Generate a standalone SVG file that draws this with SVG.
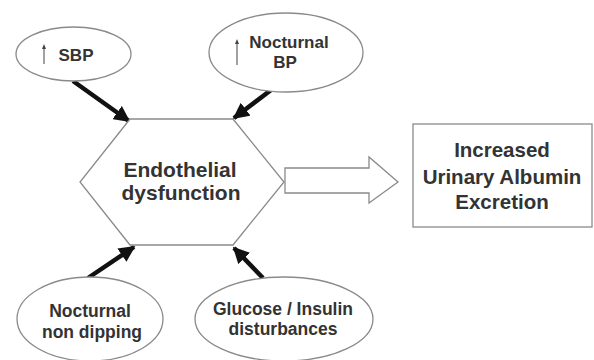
<svg xmlns="http://www.w3.org/2000/svg" width="594" height="360" viewBox="0 0 594 360">
<defs>
<style>
.sh{fill:#fff;stroke:#8a8a8a;stroke-width:1.3}
.t{font-family:"Liberation Sans",Arial,sans-serif;font-weight:bold;fill:#333;text-anchor:middle}
.c{stroke:#111;stroke-width:4.5;fill:none}
.up{stroke:#444;stroke-width:1;fill:none}
</style>
<marker id="ah" viewBox="0 0 10 10" refX="9" refY="5" markerWidth="3.6" markerHeight="3.6" orient="auto" markerUnits="strokeWidth">
<path d="M0,0 L10,5 L0,10 z" fill="#111"/>
</marker>
<marker id="sh" viewBox="0 0 10 10" refX="5" refY="10" markerWidth="5" markerHeight="5" orient="auto-start-reverse" markerUnits="userSpaceOnUse">
<path d="M5,0 L9,10 L1,10 z" fill="#444"/>
</marker>
</defs>
<rect width="594" height="360" fill="#fff"/>
<g id="connectors">
<line class="c" x1="73" y1="81" x2="129" y2="121" marker-end="url(#ah)"/>
<line class="c" x1="275" y1="87" x2="234" y2="118" marker-end="url(#ah)"/>
<line class="c" x1="88" y1="278" x2="134" y2="247" marker-end="url(#ah)"/>
<line class="c" x1="263" y1="278" x2="234" y2="248" marker-end="url(#ah)"/>
<path id="block-arrow" class="sh" d="M285,168 L369,168 L369,157 L398,182 L369,203 L369,193 L285,193 Z"/>
</g>
<g id="sbp">
<ellipse class="sh" cx="73.5" cy="54" rx="57.5" ry="27"/>
<line class="up" x1="44" y1="64" x2="44" y2="46"/>
<path d="M44,44 L46,49 L42,49 z" fill="#444"/>
<text class="t" x="76" y="61" font-size="17">SBP</text>
</g>
<g id="nocturnal-bp">
<ellipse class="sh" cx="286" cy="52.5" rx="77" ry="39.5"/>
<line class="up" x1="237" y1="65" x2="237" y2="42"/>
<path d="M237,39 L239,44 L235,44 z" fill="#444"/>
<text class="t" x="289" y="48" font-size="17">Nocturnal</text>
<text class="t" x="285" y="68" font-size="17">BP</text>
</g>
<g id="endothelial">
<polygon class="sh" points="130,119 233,119 284,182 233,245 130,245 80,182"/>
<text class="t" x="180" y="177" font-size="21">Endothelial</text>
<text class="t" x="181" y="200" font-size="21">dysfunction</text>
</g>
<g id="uae">
<rect class="sh" x="413" y="124" width="179" height="103"/>
<text class="t" x="502" y="157" font-size="20.5">Increased</text>
<text class="t" x="502" y="184" font-size="20.5">Urinary Albumin</text>
<text class="t" x="502" y="209" font-size="20.5">Excretion</text>
</g>
<g id="non-dipping">
<ellipse class="sh" cx="90" cy="319" rx="73" ry="42"/>
<text class="t" x="90" y="317" font-size="17.5">Nocturnal</text>
<text class="t" x="92" y="338" font-size="17.5">non dipping</text>
</g>
<g id="glucose">
<ellipse class="sh" cx="284" cy="319" rx="89" ry="42"/>
<text class="t" x="283" y="315" font-size="17.5">Glucose / Insulin</text>
<text class="t" x="283" y="335" font-size="17.5">disturbances</text>
</g>
</svg>
